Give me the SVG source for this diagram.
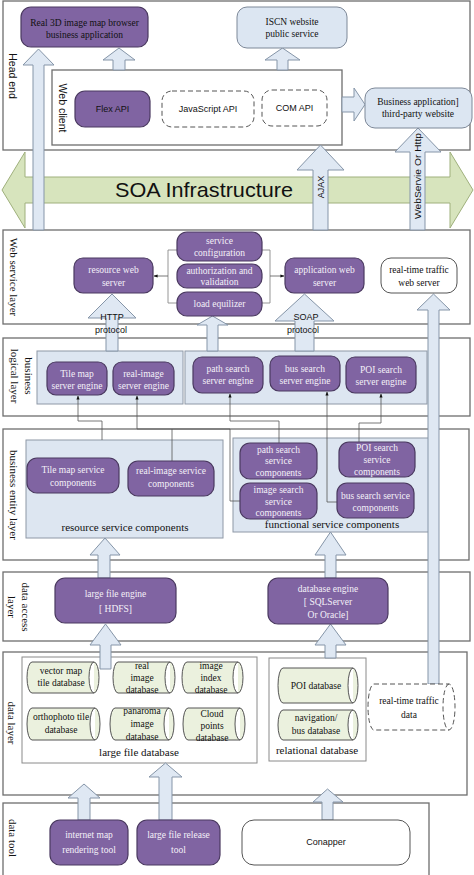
<svg xmlns="http://www.w3.org/2000/svg" width="474" height="875" viewBox="0 0 474 875">
<defs>
<style>
.layer{fill:#fff;stroke:#6e6e6e;stroke-width:1.3}
.grp{fill:#dde6f1;stroke:#8e98a6;stroke-width:1}
.grpw{fill:#fff;stroke:#8a8a8a;stroke-width:1}
.pur{fill:#8064a2;stroke:#4a3960;stroke-width:1.2}
.lb{fill:#dce6f2;stroke:#7d8898;stroke-width:1}
.wn{fill:#fff;stroke:#555;stroke-width:1}
.dash{fill:#fff;stroke:#555;stroke-width:1;stroke-dasharray:5,3}
.cyl{fill:#ebf1de;stroke:#555;stroke-width:1}
.arr{fill:#dfe8f3;stroke:#8595a8;stroke-width:1}
.soa{fill:#d7e4bd;stroke:#9fb07c;stroke-width:1}
.con{fill:none;stroke:#555;stroke-width:0.8}
.brk{fill:none;stroke:#8a8a8a;stroke-width:0.9}
.t{font-family:"Liberation Serif",serif;font-size:9.5px;fill:#111;text-anchor:middle}
.tw{font-family:"Liberation Serif",serif;font-size:9.5px;fill:#f4f0f8;text-anchor:middle}
.s{font-family:"Liberation Sans",Arial,sans-serif;font-size:9px;fill:#111;text-anchor:middle}
.lab{font-family:"Liberation Serif",serif;font-size:11px;fill:#111;text-anchor:middle}
.labs{font-family:"Liberation Sans",Arial,sans-serif;font-size:10.5px;fill:#111;text-anchor:middle}
</style>
<marker id="ah" viewBox="0 0 10 10" refX="9" refY="5" markerWidth="5" markerHeight="5" orient="auto"><path d="M0,1 L10,5 L0,9 Z" fill="#111"/></marker>
</defs>

<!-- layers -->
<g id="layers">
<rect class="layer" x="3" y="1" width="467" height="149"/>
<rect class="layer" x="3" y="230" width="467" height="94"/>
<rect class="layer" x="3" y="338" width="467" height="78"/>
<rect class="layer" x="3" y="429" width="466" height="131"/>
<rect class="layer" x="3" y="572" width="467" height="69"/>
<rect class="layer" x="3" y="652" width="464" height="143"/>
<rect class="layer" x="3" y="803" width="426" height="80"/>
</g>
<g id="layer-labels">
<text class="labs" transform="translate(12,76) rotate(90)" dy="3.5">Head end</text>
<text class="lab" transform="translate(13,277) rotate(90)" dy="3.5">Web service layer</text>
<text class="lab" transform="translate(28,376) rotate(90)" dy="3.5">business</text>
<text class="lab" transform="translate(14,376) rotate(90)" dy="3.5">logical layer</text>
<text class="lab" transform="translate(13,495) rotate(90)" dy="3.5">business entity layer</text>
<text class="lab" transform="translate(25,607) rotate(90)" dy="3.5">data access</text>
<text class="lab" transform="translate(11,607) rotate(90)" dy="3.5">layer</text>
<text class="lab" transform="translate(11,723) rotate(90)" dy="3.5">data layer</text>
<text class="lab" transform="translate(12,838) rotate(90)" dy="3.5">data tool</text>
</g>

<!-- web client container -->
<g id="web-client">
<rect class="layer" x="52" y="70" width="290" height="75"/>
<text class="labs" font-size="9.5" transform="translate(62,108) rotate(90)" dy="3.5">Web client</text>
</g>

<!-- groups -->
<g id="groups">
<rect class="grp" x="37" y="351" width="146" height="53"/>
<rect class="grp" x="185" y="351" width="242" height="53"/>
<rect class="grp" x="26" y="440" width="197" height="98"/>
<text class="lab" x="125" y="531">resource service components</text>
<rect class="grp" x="233" y="438" width="196" height="94"/>
<text class="lab" x="332" y="528">functional service components</text>
<rect class="grpw" x="22" y="657" width="235" height="106"/>
<text class="lab" x="139" y="756">large file database</text>
<rect class="grpw" x="269" y="658" width="97" height="103" stroke="#555"/>
<text class="lab" x="317" y="754">relational database</text>
</g>

<!-- SOA -->
<g id="soa">
<polygon class="soa" points="2,190 25,152 25,177 450,177 450,152 473,190 450,228 450,203 25,203 25,228"/>
<text x="204" y="197" font-family="'Liberation Sans',Arial,sans-serif" font-size="21" fill="#111" text-anchor="middle" textLength="178" lengthAdjust="spacingAndGlyphs">SOA Infrastructure</text>
</g>

<!-- block arrows -->
<g id="block-arrows">
<polygon class="arr" points="33,230 33,65 23,65 38.5,49 54,65 44,65 44,230"/>
<polygon class="arr" points="113,70 113,60 103,60 119,48 135,60 125,60 125,70"/>
<polygon class="arr" points="277,70 277,60 265,60 282.5,48 300,60 288,60 288,70"/>
<polygon class="arr" points="342,97 354,97 354,88 365,104.5 354,121 354,112 342,112"/>
<polygon class="arr" points="410,230 410,152 395,152 418,128 441,152 425,152 425,230"/>
<text class="s" font-size="8.5" transform="translate(418,176) rotate(-90)" dy="3" textLength="86" lengthAdjust="spacingAndGlyphs">WebServie Or Http</text>
<polygon class="arr" points="313,230 313,170 297,170 320.5,145 344,170 328,170 328,230"/>
<text class="s" font-size="8" transform="translate(321,187) rotate(-90)" dy="3">AJAX</text>
<polygon class="arr" points="106,351 106,318 88,318 112,294 136,318 118,318 118,351"/>
<text class="s" x="112" y="320">HTTP</text>
<text class="s" x="111" y="333">protocol</text>
<polygon class="arr" points="207,351 207,325 197,325 212.5,316 228,325 218,325 218,351"/>
<polygon class="arr" points="295,351 295,321 275,321 304.5,294 334,321 314,321 314,351"/>
<text class="s" x="306" y="320">SOAP</text>
<text class="s" x="303" y="333">protocol</text>
<polygon class="arr" points="428,684 428,310 417,310 433.5,294 450,310 439,310 439,684"/>
<polygon class="arr" points="98,578 98,555 90,555 105,538 120,555 110,555 110,578"/>
<polygon class="arr" points="325,578 325,555 315,555 330.5,532 346,555 336,555 336,578"/>
<polygon class="arr" points="100,669 100,645 90,645 105.5,624 121,645 111,645 111,669"/>
<polygon class="arr" points="325,658 325,645 315,645 330.5,624 346,645 336,645 336,658"/>
<polygon class="arr" points="78,820 78,798 68,798 84,784 100,798 90,798 90,820"/>
<polygon class="arr" points="159,820 159,777 149,777 165.5,763 182,777 172,777 172,820"/>
<polygon class="arr" points="322,820 322,802 313,802 327.5,789 343,802 333,802 333,820"/>
</g>

<!-- connectors -->
<g id="connectors">
<path class="brk" d="M177,250 H168 V303 H177"/>
<path class="con" d="M168,276 H154" marker-end="url(#ah)"/>
<path class="brk" d="M262,250 H270 V303 H262"/>
<path class="con" d="M270,276 H284" marker-end="url(#ah)"/>
<path class="con" d="M102,440 V421 H78 V396" marker-end="url(#ah)"/>
<path class="con" d="M240,501 H230 V429 H137 V396" marker-end="url(#ah)"/>
<path class="con" d="M172,461 V429"/>
<path class="con" d="M279,443 V421 H230 V394" marker-end="url(#ah)"/>
<path class="con" d="M337,502 H327 V392" marker-end="url(#ah)"/>
<path class="con" d="M359,442 V423 H381 V394" marker-end="url(#ah)"/>
</g>

<!-- head end nodes -->
<g id="real3d-app"><rect class="pur" x="21" y="7" width="127" height="40" rx="10"/>
<text class="t" x="84.5" y="25.5">Real 3D image map browser</text><text class="t" x="84.5" y="38">business application</text></g>
<g id="iscn"><rect class="lb" x="237" y="7" width="110" height="41" rx="10"/>
<text class="t" x="292" y="25">ISCN website</text><text class="t" x="292" y="37">public service</text></g>
<g id="biz-app"><rect class="lb" x="365" y="88" width="107" height="40" rx="10"/>
<text class="t" x="418" y="105">Business application]</text><text class="t" x="418" y="117">third-party website</text></g>
<g id="flex-api"><rect class="pur" x="75" y="91" width="75" height="36" rx="10"/>
<text class="s" x="112.5" y="112">Flex API</text></g>
<g id="js-api"><rect class="dash" x="162" y="91" width="92" height="36" rx="10"/>
<text class="s" x="208" y="112">JavaScript API</text></g>
<g id="com-api"><rect class="dash" x="262" y="90" width="65" height="36" rx="10"/>
<text class="s" x="294.5" y="111">COM API</text></g>

<!-- web service nodes -->
<g id="resource-web-server"><rect class="pur" x="74" y="258" width="79" height="35" rx="9"/>
<text class="tw" x="113.5" y="273">resource web</text><text class="tw" x="113.5" y="286">server</text></g>
<g id="service-config"><rect class="pur" x="177" y="232" width="85" height="29" rx="10"/>
<text class="tw" x="219.5" y="243.5">service</text><text class="tw" x="219.5" y="256">configuration</text></g>
<g id="auth"><rect class="pur" x="177" y="264" width="85" height="24" rx="10"/>
<text class="tw" x="219.5" y="273.5">authorization and</text><text class="tw" x="219.5" y="285">validation</text></g>
<g id="load-eq"><rect class="pur" x="177" y="292" width="85" height="24" rx="10"/>
<text class="tw" x="219.5" y="307">load equilizer</text></g>
<g id="app-web-server"><rect class="pur" x="285" y="258" width="79" height="35" rx="9"/>
<text class="tw" x="324.5" y="273">application web</text><text class="tw" x="324.5" y="286">server</text></g>
<g id="rt-web-server"><rect class="wn" x="381" y="258" width="76" height="35" rx="10"/>
<text class="t" x="419" y="273">real-time traffic</text><text class="t" x="419" y="286">web server</text></g>

<!-- engines -->
<g id="tile-engine"><rect class="pur" x="47" y="362" width="60" height="33" rx="9"/>
<text class="tw" x="77" y="377">Tile map</text><text class="tw" x="77" y="389">server engine</text></g>
<g id="real-image-engine"><rect class="pur" x="113" y="362" width="61" height="33" rx="9"/>
<text class="tw" x="143.5" y="377">real-image</text><text class="tw" x="143.5" y="389">server engine</text></g>
<g id="path-engine"><rect class="pur" x="193" y="357" width="70" height="36" rx="9"/>
<text class="tw" x="228" y="372">path search</text><text class="tw" x="228" y="384">server engine</text></g>
<g id="bus-engine"><rect class="pur" x="270" y="356" width="70" height="35" rx="9"/>
<text class="tw" x="305" y="372">bus search</text><text class="tw" x="305" y="384">server engine</text></g>
<g id="poi-engine"><rect class="pur" x="346" y="357" width="70" height="36" rx="9"/>
<text class="tw" x="381" y="373">POI search</text><text class="tw" x="381" y="385">server engine</text></g>

<!-- components -->
<g id="tile-comp"><rect class="pur" x="27" y="458" width="92" height="35" rx="10"/>
<text class="tw" x="73" y="473">Tile map service</text><text class="tw" x="73" y="486">components</text></g>
<g id="real-image-comp"><rect class="pur" x="128" y="461" width="86" height="35" rx="10"/>
<text class="tw" x="171" y="474">real-image service</text><text class="tw" x="171" y="487">components</text></g>
<g id="path-comp"><rect class="pur" x="240" y="443" width="77" height="36" rx="10"/>
<text class="tw" x="278.5" y="453">path search</text><text class="tw" x="278.5" y="464">service</text><text class="tw" x="278.5" y="476">components</text></g>
<g id="image-comp"><rect class="pur" x="240" y="483" width="77" height="36" rx="10"/>
<text class="tw" x="278.5" y="493">image search</text><text class="tw" x="278.5" y="504.5">service</text><text class="tw" x="278.5" y="516">components</text></g>
<g id="poi-comp"><rect class="pur" x="339" y="442" width="76" height="35" rx="10"/>
<text class="tw" x="377" y="451">POI search</text><text class="tw" x="377" y="463">service</text><text class="tw" x="377" y="475">components</text></g>
<g id="bus-comp"><rect class="pur" x="337" y="483" width="77" height="35" rx="10"/>
<text class="tw" x="375.5" y="499">bus search service</text><text class="tw" x="375.5" y="511">components</text></g>

<!-- data access -->
<g id="large-file-engine"><rect class="pur" x="55" y="578" width="121" height="45" rx="10"/>
<text class="tw" x="115.5" y="597">large file engine</text><text class="tw" x="115.5" y="612">[ HDFS]</text></g>
<g id="db-engine"><rect class="pur" x="268" y="578" width="120" height="46" rx="10"/>
<text class="tw" x="328" y="592">database engine</text><text class="tw" x="328" y="605">[ SQLServer</text><text class="tw" x="328" y="618">Or Oracle]</text></g>

<!-- data layer cylinders -->
<g id="vector-db"><path class="cyl" d="M32,662 H94 A5,15.5 0 0 1 94,693 H32 A5,15.5 0 0 1 32,662 Z M94,662 A5,15.5 0 0 0 94,693"/>
<text class="t" font-size="9" x="61" y="674">vector map</text><text class="t" font-size="9" x="61" y="686">tile database</text></g>
<g id="real-image-db"><path class="cyl" d="M118,662 H170 A5,15.5 0 0 1 170,693 H118 A5,15.5 0 0 1 118,662 Z M170,662 A5,15.5 0 0 0 170,693"/>
<text class="t" font-size="9" x="142" y="669">real</text><text class="t" font-size="9" x="142" y="681">image</text><text class="t" font-size="9" x="142" y="693">database</text></g>
<g id="image-index-db"><path class="cyl" d="M187,662 H238 A5,15.5 0 0 1 238,693 H187 A5,15.5 0 0 1 187,662 Z M238,662 A5,15.5 0 0 0 238,693"/>
<text class="t" font-size="9" x="211" y="669">image</text><text class="t" font-size="9" x="211" y="681">index</text><text class="t" font-size="9" x="211" y="693">database</text></g>
<g id="ortho-db"><path class="cyl" d="M32,708 H95 A5,16 0 0 1 95,740 H32 A5,16 0 0 1 32,708 Z M95,708 A5,16 0 0 0 95,740"/>
<text class="t" font-size="9" x="61" y="720">orthophoto tile</text><text class="t" font-size="9" x="61" y="733">database</text></g>
<g id="panorama-db"><path class="cyl" d="M115,708 H169 A5,16 0 0 1 169,740 H115 A5,16 0 0 1 115,708 Z M169,708 A5,16 0 0 0 169,740"/>
<text class="t" font-size="9" x="142" y="714">panaroma</text><text class="t" font-size="9" x="142" y="727">image</text><text class="t" font-size="9" x="142" y="740">database</text></g>
<g id="cloud-db"><path class="cyl" d="M188,708 H240 A5,16 0 0 1 240,740 H188 A5,16 0 0 1 188,708 Z M240,708 A5,16 0 0 0 240,740"/>
<text class="t" font-size="9" x="212" y="717">Cloud</text><text class="t" font-size="9" x="212" y="729">points</text><text class="t" font-size="9" x="212" y="741">database</text></g>
<g id="poi-db"><path class="cyl" d="M283,668 H353 A5,17.5 0 0 1 353,703 H283 A5,17.5 0 0 1 283,668 Z M353,668 A5,17.5 0 0 0 353,703"/>
<text class="t" font-size="9" x="316" y="689">POI database</text></g>
<g id="nav-db"><path class="cyl" d="M283,710 H353 A5,15 0 0 1 353,740 H283 A5,15 0 0 1 283,710 Z M353,710 A5,15 0 0 0 353,740"/>
<text class="t" font-size="9" x="316" y="721">navigation/</text><text class="t" font-size="9" x="316" y="734">bus database</text></g>
<g id="rt-data"><path class="cyl" style="fill:#fff;stroke-dasharray:5,3" d="M374,684 H449 A6,23 0 0 1 449,730 H374 A6,23 0 0 1 374,684 Z M449,684 A6,23 0 0 0 449,730"/>
<text class="t" font-size="9" x="409" y="704">real-time traffic</text><text class="t" font-size="9" x="409" y="718">data</text></g>

<!-- data tools -->
<g id="internet-map-tool"><rect class="pur" x="50" y="820" width="78" height="45" rx="10"/>
<text class="tw" x="89" y="838">internet map</text><text class="tw" x="89" y="853">rendering tool</text></g>
<g id="large-file-release-tool"><rect class="pur" x="137" y="820" width="83" height="45" rx="10"/>
<text class="tw" x="178.5" y="838">large file release</text><text class="tw" x="178.5" y="853">tool</text></g>
<g id="conapper"><rect class="wn" x="242" y="820" width="168" height="45" rx="12"/>
<text class="s" x="326" y="845">Conapper</text></g>
</svg>
